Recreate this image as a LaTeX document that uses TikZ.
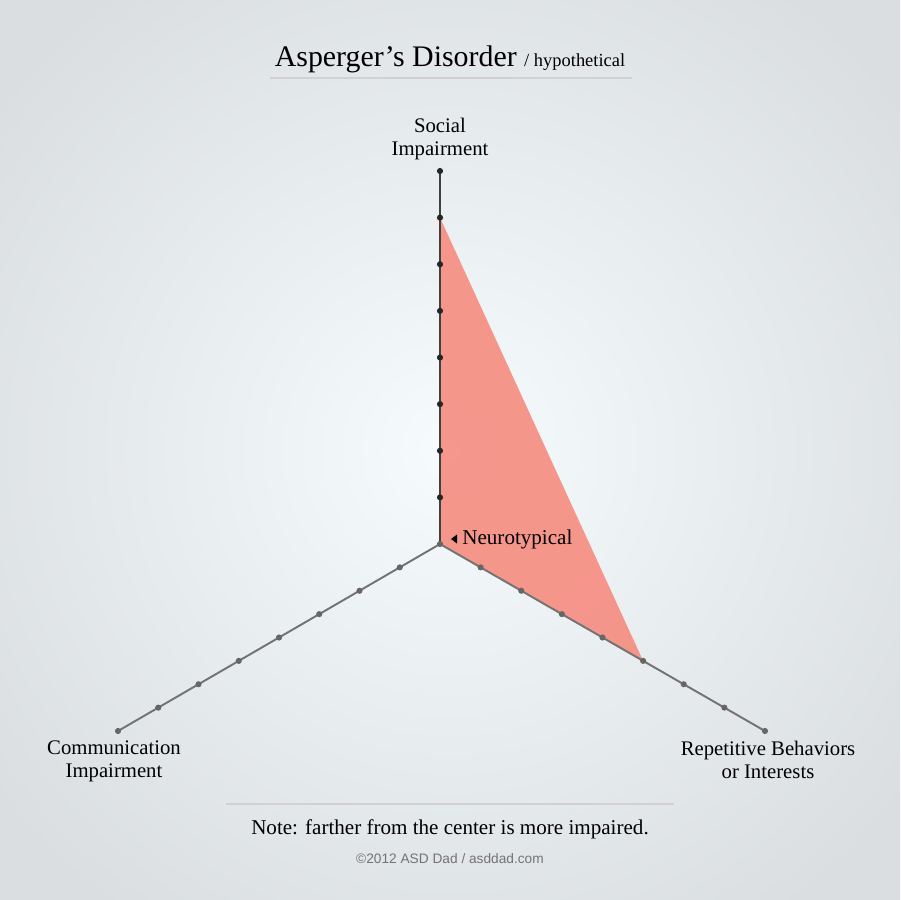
\documentclass[tikz,border=0pt]{standalone}
\usepackage{fontspec}
\setmainfont{Liberation Serif}
\setsansfont{Liberation Sans}
\usetikzlibrary{positioning,calc}
\definecolor{bgedge}{RGB}{218,222,224}
\definecolor{bgmid}{RGB}{246,251,253}
\definecolor{areared}{RGB}{246,140,128}
\tikzset{
  axisline/.style={line width=1.1pt},
  tickdot/.style={circle, fill, inner sep=0pt, minimum size=3.5pt},
  axislabel/.style={align=center, font=\fontsize{11.8}{13}\selectfont},
}
\begin{document}
\begin{tikzpicture}[x=0.02cm, y=-0.02cm]
	% background
	\begin{scope}
		\clip (0,0) rectangle (900,900);
		\shade[inner color=bgmid, middle color=bgmid, outer color=bgedge] (-120,-120) rectangle (1020,1020);
	\end{scope}
	\useasboundingbox (0,0) rectangle (900,900);

	% title
	\node[anchor=base] (title) at (450,66) {\fontsize{17}{19}\selectfont Asperger’s Disorder \fontsize{10.5}{12}\selectfont / hypothetical};
	\draw[black!18, line width=1pt] (270,78) -- (632,78);

	% axes
	\coordinate (center) at (440,544);
	\coordinate (social) at (440,171);
	\coordinate (repet) at (765,731);
	\coordinate (comm) at (118,731);

	% impairment area
	\fill[areared, opacity=0.9] (center) -- ($(center)!0.875!(social)$) -- ($(center)!0.625!(repet)$) -- cycle;

	\draw[axisline, black!75] (center) -- (social);
	\draw[axisline, black!55] (center) -- (repet);
	\draw[axisline, black!55] (center) -- (comm);
	\foreach \i in {1,...,8} {
		\node[tickdot, black!85] at ($(center)!\i/8!(social)$) {};
		\node[tickdot, black!60] at ($(center)!\i/8!(repet)$) {};
		\node[tickdot, black!60] at ($(center)!\i/8!(comm)$) {};
	}
	\node[tickdot, black!60] at (center) {};

	% labels
	\node[axislabel, above=3pt of social] (sociallbl) {Social\\Impairment};
	\node[axislabel, anchor=north] (repetlbl) at (768,735) {Repetitive Behaviors\\or Interests};
	\node[axislabel, anchor=north] (commlbl) at (114,735) {Communication\\Impairment};
	\node[anchor=west, inner sep=0pt, font=\fontsize{12}{13}\selectfont] (neuro) at (462,539) {Neurotypical};
	\fill (451,539) -- (457,534.5) -- (457,543.5) -- cycle;

	% note
	\draw[black!18, line width=1pt] (226,804) -- (674,804);
	\node[anchor=base, font=\fontsize{12}{13}\selectfont] (note) at (450,834) {Note: farther from the center is more impaired.};
	\node[anchor=base, font=\sffamily\fontsize{7.8}{9}\selectfont, text=black!55] (credit) at (450,863) {©2012 ASD Dad / asddad.com};
\end{tikzpicture}
\end{document}
